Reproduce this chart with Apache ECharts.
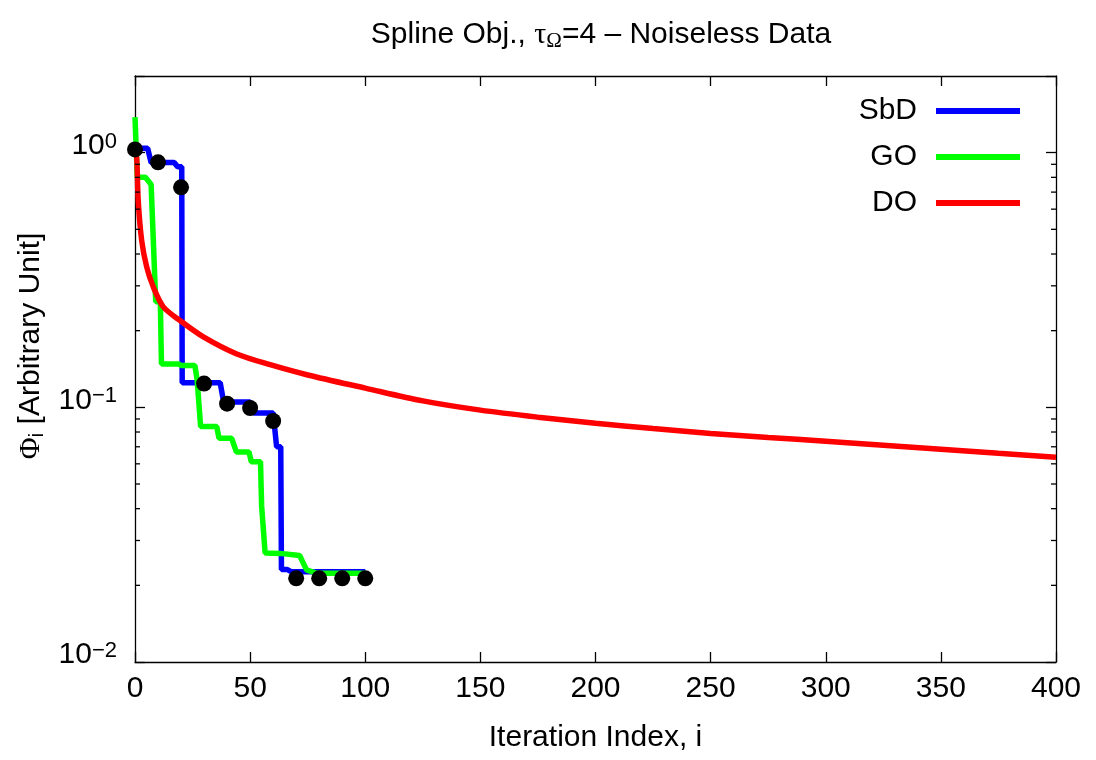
<!DOCTYPE html>
<html>
<head>
<meta charset="utf-8">
<script src="https://cdn.jsdelivr.net/npm/echarts@6/dist/echarts.min.js"></script>
<style>html,body{margin:0;padding:0;background:#fff}#c{width:1096px;height:760px}</style>
</head>
<body>
<div id="c"></div>
<script>
// ---- data ----
const sbdIter = [0, 5.5, 7, 17, 18.5, 20.3, 20.5, 37, 38.5, 50, 51.5, 60, 61.5, 63.3, 63.6, 66, 68, 100];
const sbdPhi  = [1.04, 1.04, 0.915, 0.915, 0.88, 0.88, 0.125, 0.125, 0.105, 0.105, 0.095, 0.095, 0.07, 0.07, 0.0231, 0.0231, 0.0226, 0.0226];

const sbdMarkIter = [0, 10, 20, 30, 40, 50, 60, 70, 80, 90, 100];
const sbdMarkPhi  = [1.03, 0.916, 0.731, 0.124, 0.1034, 0.0994, 0.0884, 0.0213, 0.0213, 0.0213, 0.0213];

const goIter = [0, 1, 4.5, 7, 9, 11, 11.5, 19, 20, 26, 27, 28.5, 35.5, 36.5, 42, 44, 49.5, 50.5, 54.5, 55, 56.5, 63, 71.5, 74.5, 79, 100];
const goPhi  = [1.38, 0.80, 0.80, 0.75, 0.26, 0.26, 0.148, 0.148, 0.146, 0.146, 0.128, 0.084, 0.084, 0.0756, 0.0756, 0.0668, 0.0668, 0.0612, 0.0612, 0.041, 0.0268, 0.0267, 0.0262, 0.023, 0.0223, 0.0223];

const doIter = [0, 0.7, 1.4, 2.9, 5.1, 8, 12.3, 19.6, 29.7, 44.2, 58.7, 75, 100, 125, 150, 175, 200, 225, 250, 275, 300, 325, 350, 375, 400];
const doPhi  = [1.0, 0.96, 0.648, 0.452, 0.355, 0.296, 0.248, 0.219, 0.189, 0.162, 0.147, 0.134, 0.119, 0.106, 0.0975, 0.0915, 0.0866, 0.0826, 0.079, 0.0762, 0.0736, 0.071, 0.0685, 0.066, 0.0637];

const xTickStep = 50;
const xMin = 0, xMax = 400;
const yMin = 0.01, yMax = 2;
const yMinorTicks = [0.02, 0.03, 0.04, 0.05, 0.06, 0.07, 0.08, 0.09, 0.2, 0.3, 0.4, 0.5, 0.6, 0.7, 0.8, 0.9];

const zip = (a, b) => a.map((v, i) => [v, b[i]]);

const FONT = 'Liberation Sans';
const FS = 30;
const chart = echarts.init(document.getElementById('c'), null, {renderer: 'canvas'});

function yLabel(v) {
  const e = Math.round(Math.log10(v));
  if (Math.abs(v - Math.pow(10, e)) / v > 1e-6) return '';
  const es = e < 0 ? '\u2212' + (-e) : String(e);
  return '{b|10}{s|' + es + '}';
}

const option = {
  backgroundColor: '#fff',
  animation: false,
  title: {
    left: 596, top: 13, textAlign: 'center',
    text: '{a|Spline Obj., }{g|τ}{sub|Ω}{a|=4 \u2013 Noiseless Data}',
    textStyle: {
      fontWeight: 'normal',
      rich: {
        a: {fontFamily: FONT, fontSize: FS, fontWeight: 'normal', color: '#000', lineHeight: 34},
        g: {fontFamily: 'Liberation Serif', fontSize: FS, fontWeight: 'normal', color: '#000', lineHeight: 34},
        sub: {fontFamily: 'Liberation Serif', fontSize: 21, fontWeight: 'normal', color: '#000', verticalAlign: 'bottom', lineHeight: 34, padding: [14, 0, 0, 0]}
      }
    }
  },
  legend: {
    data: ['SbD', 'GO', 'DO'],
    orient: 'vertical', align: 'right',
    right: 71, top: 91,
    icon: 'rect', itemWidth: 84, itemHeight: 6, itemGap: 16,
    textStyle: {fontFamily: FONT, fontSize: FS, color: '#000', lineHeight: 30, padding: [0, 14, 0, 0]}
  },
  grid: {left: 135, right: 40, top: 76, bottom: 98, containLabel: false},
  xAxis: [{
    type: 'value', min: xMin, max: xMax, interval: xTickStep, position: 'bottom',
    name: 'Iteration Index, i', nameLocation: 'middle', nameGap: 61,
    nameTextStyle: {fontFamily: FONT, fontSize: FS, color: '#000'},
    axisLine: {show: true, onZero: false, lineStyle: {color: '#000', width: 1.3}},
    axisTick: {show: true, inside: true, length: 10, lineStyle: {color: '#000', width: 1.3}},
    axisLabel: {fontFamily: FONT, fontSize: FS, color: '#000', margin: 12},
    splitLine: {show: false}
  }, {
    type: 'value', min: xMin, max: xMax, interval: xTickStep, position: 'top',
    axisLine: {show: true, onZero: false, lineStyle: {color: '#000', width: 1.3}},
    axisTick: {show: true, inside: true, length: 10, lineStyle: {color: '#000', width: 1.3}},
    axisLabel: {show: false}, splitLine: {show: false}
  }],
  yAxis: [{
    type: 'log', logBase: 10, min: yMin, max: yMax, position: 'left',
    axisLine: {show: true, onZero: false, lineStyle: {color: '#000', width: 1.3}},
    axisTick: {show: true, inside: true, length: 10, lineStyle: {color: '#000', width: 1.3}},
    axisLabel: {
      formatter: yLabel, margin: 18, padding: [0, 0, 14, 0],
      rich: {
        b: {fontFamily: FONT, fontSize: FS, color: '#000', lineHeight: 30},
        s: {fontFamily: FONT, fontSize: 22, color: '#000', verticalAlign: 'top', lineHeight: 30, padding: [0, 0, 12, 0]}
      }
    },
    splitLine: {show: false}
  }, {
    type: 'log', logBase: 10, min: yMin, max: yMax, position: 'right',
    axisLine: {show: true, onZero: false, lineStyle: {color: '#000', width: 1.3}},
    axisTick: {show: true, inside: true, length: 10, lineStyle: {color: '#000', width: 1.3}},
    axisLabel: {show: false}, splitLine: {show: false}
  }],
  graphic: [{
    type: 'text', x: 31, y: 346, rotation: Math.PI / 2,
    style: {
      text: '{g|Φ}{sub|i}{a| [Arbitrary Unit]}',
      align: 'center', verticalAlign: 'middle',
      rich: {
        a: {fontFamily: FONT, fontSize: FS, fill: '#000', lineHeight: 34},
        g: {fontFamily: 'Liberation Serif', fontSize: FS, fill: '#000', lineHeight: 34},
        sub: {fontFamily: FONT, fontSize: 21, fill: '#000', lineHeight: 34, verticalAlign: 'bottom', padding: [14, 0, 0, 0]}
      }
    }
  }],
  series: [
    {
      name: 'SbD', type: 'line', data: zip(sbdIter, sbdPhi), showSymbol: false, symbol: 'none',
      lineStyle: {color: '#0000ff', width: 5.5}, itemStyle: {color: '#0000ff'}, z: 2
    },
    {
      name: 'GO', type: 'line', data: zip(goIter, goPhi), showSymbol: false, symbol: 'none',
      lineStyle: {color: '#00ff00', width: 5.5}, itemStyle: {color: '#00ff00'}, z: 3
    },
    {
      name: 'DO', type: 'line', data: zip(doIter, doPhi), showSymbol: false, symbol: 'none',
      smooth: 0.3,
      lineStyle: {color: '#ff0000', width: 5.5}, itemStyle: {color: '#ff0000'}, z: 4
    },
    {
      name: 'SbD points', type: 'scatter', data: zip(sbdMarkIter, sbdMarkPhi),
      symbol: 'circle', symbolSize: 16, itemStyle: {color: '#000', opacity: 1}, clip: false, z: 5, silent: true
    },
    {
      name: 'minor', type: 'custom', silent: true, clip: false, z: 6,
      data: yMinorTicks.map(v => [xMin, v]),
      renderItem: function (params, api) {
        const v = api.value(1);
        const p = api.coord([xMin, v]);
        const q = api.coord([xMax, v]);
        const st = {stroke: '#000', lineWidth: 1.3};
        return {
          type: 'group',
          children: [
            {type: 'line', shape: {x1: p[0], y1: p[1], x2: p[0] + 5, y2: p[1]}, style: st},
            {type: 'line', shape: {x1: q[0] - 5, y1: q[1], x2: q[0], y2: q[1]}, style: st}
          ]
        };
      }
    }
  ]
};
chart.setOption(option);
</script>
</body>
</html>
